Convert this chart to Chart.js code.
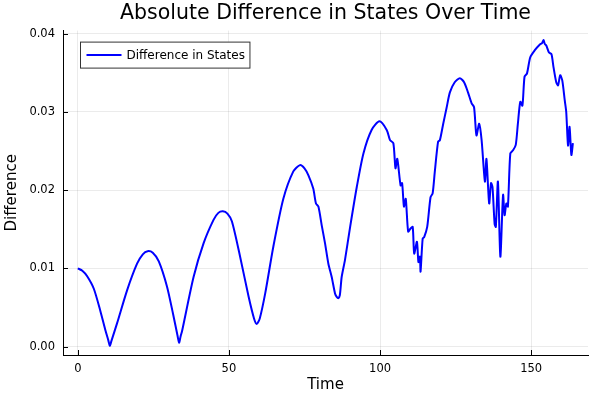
<!DOCTYPE html>
<html>
<head>
<meta charset="utf-8">
<script src="https://cdn.jsdelivr.net/npm/chart.js@4/dist/chart.umd.min.js"></script>
<style>
  html, body { margin: 0; padding: 0; background: #fff; }
  #wrap { width: 600px; height: 400px; }
</style>
</head>
<body>
<div id="wrap"><canvas id="diffChart" width="600" height="400"></canvas></div>
<script>
// values
const times = [
  0, 1.5, 3.1, 5.3, 7.5, 9.2, 10.1, 10.6, 11.1, 13.0, 16.3, 19.6, 21.5, 23.1, 24.8, 26.8, 29.5, 31.5, 33.0, 33.5, 34.0, 34.5,
  38.3, 41.6, 44.9, 46.5, 48.0, 49.5, 51.0, 53.7, 56.5, 58.3, 59.2, 60.2, 62.0, 64.7, 68.0, 71.3, 73.5, 75.0, 76.3,
  77.9, 78.8, 79.6, 80.7, 81.8, 82.9, 84.0, 85.1, 85.6, 86.2, 86.7, 87.3, 88.4, 90.1, 92.3, 94.5, 97.2, 99.8,
  102.2, 103.3, 104.4, 105.1, 105.7, 106.8, 107.3, 107.9, 108.5, 109.3, 110.1, 110.8, 111.3, 112.2, 112.7, 113.2,
  113.4, 114.1, 114.6, 115.6, 116.7, 117.4, 118.1, 119.2, 119.8, 120.9, 122.0, 123.1, 124.7, 126.4, 127.8, 129.1,
  130.3, 131.1, 131.9, 132.8, 133.6, 134.7, 135.2, 136.1, 136.7, 137.2, 137.9, 138.3, 139.0, 139.8, 140.7, 141.2,
  141.8, 142.3, 143.1, 144.0, 144.9, 145.6, 146.4, 147.1, 147.8, 148.6, 149.7, 151.2, 152.8, 153.6, 154.1, 154.5,
  155.0, 155.9, 156.7, 157.4, 158.3, 158.9, 159.6, 160.3, 161.1, 161.6, 162.2, 162.7, 163.3, 163.8
];
const differences = [
  0.0100, 0.0097, 0.0090, 0.0074, 0.0045, 0.0020, 0.0008, 0.0001, 0.0007, 0.0030, 0.0072, 0.0106, 0.0118, 0.0122, 0.0120, 0.0109, 0.0077, 0.0042, 0.0014, 0.0005, 0.0013, 0.0020,
  0.0089, 0.0132, 0.0162, 0.0171, 0.0173, 0.0170, 0.0160, 0.0115, 0.0064, 0.0036, 0.0029, 0.0036, 0.0068, 0.0128, 0.0189, 0.0224, 0.0232, 0.0228, 0.0219,
  0.0202, 0.0183, 0.0179, 0.0155, 0.0132, 0.0106, 0.0089, 0.0068, 0.0064, 0.0062, 0.0066, 0.0089, 0.0111, 0.0153, 0.0204, 0.0247, 0.0277, 0.0288,
  0.0277, 0.0264, 0.0260, 0.0228, 0.0240, 0.0206, 0.0209, 0.0179, 0.0189, 0.0147, 0.0151, 0.0153, 0.0119, 0.0134, 0.0108, 0.0115,
  0.0096, 0.0138, 0.0140, 0.0153, 0.0191, 0.0196, 0.0223, 0.0262, 0.0264, 0.0285, 0.0305, 0.0325, 0.0338, 0.0343, 0.0338, 0.0325,
  0.0311, 0.0306, 0.0270, 0.0285, 0.0264, 0.0211, 0.0240, 0.0183, 0.0209, 0.0204, 0.0157, 0.0153, 0.0211, 0.0115, 0.0194, 0.0168,
  0.0183, 0.0179, 0.0247, 0.0251, 0.0258, 0.0285, 0.0313, 0.0308, 0.0345, 0.0349, 0.0370, 0.0379, 0.0386, 0.0388, 0.0392, 0.0387,
  0.0385, 0.0376, 0.0374, 0.0357, 0.0338, 0.0334, 0.0347, 0.0340, 0.0315, 0.0300, 0.0257, 0.0281, 0.0245, 0.0260
];
const xTicks = [0, 50, 100, 150];
const yTicks = [0, 0.01, 0.02, 0.03, 0.04];
const seriesLabel = 'Difference in States';

const FONT = 'DejaVu Sans';

// Plots.jl style: small tick marks pointing into the plot, and a framed legend
const plotsExtras = {
  id: 'plotsExtras',
  afterDraw(chart) {
    const { ctx, chartArea, scales } = chart;
    ctx.save();
    ctx.strokeStyle = '#000';
    ctx.lineWidth = 1;
    ctx.beginPath();
    xTicks.forEach(function(v) {
      const px = Math.round(scales.x.getPixelForValue(v)) + 0.5;
      ctx.moveTo(px, chartArea.bottom);
      ctx.lineTo(px, chartArea.bottom - 5);
    });
    yTicks.forEach(function(v) {
      const py = Math.round(scales.y.getPixelForValue(v)) + 0.5;
      ctx.moveTo(chartArea.left, py);
      ctx.lineTo(chartArea.left + 5, py);
    });
    ctx.stroke();

    // legend
    const bx = chartArea.left + 17.5, by = chartArea.top + 11.5;
    ctx.font = '12px "' + FONT + '"';
    const tw = ctx.measureText(seriesLabel).width;
    const bw = 46 + tw + 5, bh = 26;
    ctx.fillStyle = '#fff';
    ctx.fillRect(bx, by, bw, bh);
    ctx.strokeStyle = '#333';
    ctx.strokeRect(bx, by, bw, bh);
    ctx.strokeStyle = '#0000ff';
    ctx.lineWidth = 2;
    ctx.beginPath();
    ctx.moveTo(bx + 6, by + bh / 2);
    ctx.lineTo(bx + 41, by + bh / 2);
    ctx.stroke();
    ctx.fillStyle = '#000';
    ctx.textBaseline = 'middle';
    ctx.fillText(seriesLabel, bx + 46, by + bh / 2 + 1);
    ctx.restore();
  }
};

new Chart(document.getElementById('diffChart'), {
  type: 'line',
  data: {
    datasets: [{
      label: seriesLabel,
      data: times.map((t, i) => ({ x: t, y: differences[i] })),
      borderColor: '#0000ff',
      borderWidth: 2,
      pointRadius: 0,
      fill: false,
      tension: 0.25
    }]
  },
  options: {
    responsive: false,
    animation: false,
    layout: { padding: { left: 0, right: 12, top: 0, bottom: 0 } },
    plugins: {
      legend: { display: false },
      tooltip: { enabled: false },
      title: {
        display: true,
        text: 'Absolute Difference in States Over Time',
        fullSize: false,
        color: '#000',
        font: { family: FONT, size: 20.5, weight: 'normal' },
        padding: { top: 1, bottom: 5 }
      }
    },
    scales: {
      x: {
        type: 'linear',
        min: -4.9,
        max: 168.8,
        afterBuildTicks: function(scale) {
          scale.ticks = xTicks.map(v => ({ value: v }));
        },
        afterFit: function(scale) { scale.height = 45; },
        grid: { color: 'rgba(0,0,0,0.08)', drawTicks: false },
        border: { display: true, color: '#000', width: 1 },
        ticks: {
          color: '#000',
          padding: 7,
          maxRotation: 0,
          font: { family: FONT, size: 11.5 },
          callback: v => String(v)
        },
        title: {
          display: true,
          text: 'Time',
          color: '#000',
          font: { family: FONT, size: 15 },
          padding: { top: 0, bottom: 6 }
        }
      },
      y: {
        type: 'linear',
        min: -0.00107,
        max: 0.0404,
        afterBuildTicks: function(scale) {
          scale.ticks = yTicks.map(v => ({ value: v }));
        },
        afterFit: function(scale) { scale.width = 63; },
        grid: { color: 'rgba(0,0,0,0.08)', drawTicks: false },
        border: { display: true, color: '#000', width: 1 },
        ticks: {
          color: '#000',
          padding: 8,
          font: { family: FONT, size: 11.5 },
          callback: v => Number(v).toFixed(2)
        },
        title: {
          display: true,
          text: 'Difference',
          color: '#000',
          font: { family: FONT, size: 15 },
          padding: { top: 3, bottom: 0 }
        }
      }
    }
  },
  plugins: [plotsExtras]
});
</script>
</body>
</html>
